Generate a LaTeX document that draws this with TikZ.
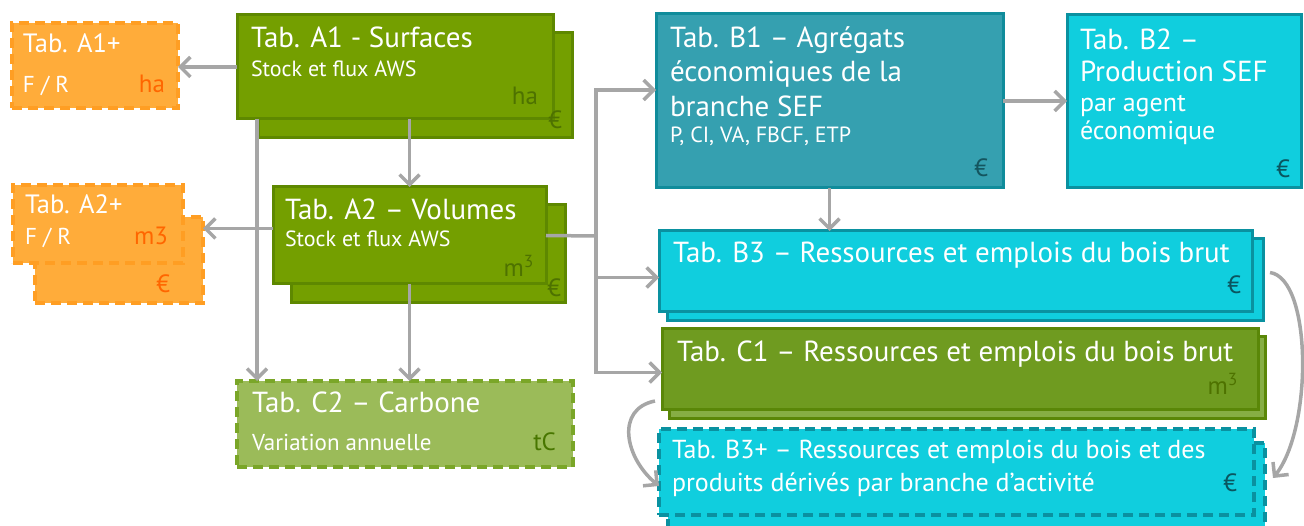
\documentclass[tikz,border=0pt]{standalone}
\usepackage{fontspec}
\setmainfont{PT Sans}
\usetikzlibrary{arrows.meta}
\definecolor{gfill}{RGB}{116,159,0}
\definecolor{gdraw}{RGB}{94,136,0}
\definecolor{gtext}{RGB}{78,114,0}
\definecolor{lgfill}{RGB}{155,187,89}
\definecolor{lgdraw}{RGB}{122,166,40}
\definecolor{lgtext}{RGB}{72,118,0}
\definecolor{ofill}{RGB}{255,172,58}
\definecolor{odraw}{RGB}{255,158,35}
\definecolor{otext}{RGB}{255,102,0}
\definecolor{tfill}{RGB}{53,160,176}
\definecolor{tdraw}{RGB}{16,140,155}
\definecolor{ttext}{RGB}{20,85,95}
\definecolor{cfill}{RGB}{16,206,222}
\definecolor{cdraw}{RGB}{10,145,160}
\definecolor{ctext}{RGB}{10,85,95}
\definecolor{cofill}{RGB}{111,155,32}
\definecolor{codraw}{RGB}{90,135,8}
\definecolor{cobfill}{RGB}{134,174,68}
\definecolor{conn}{RGB}{166,166,166}
\tikzset{
  box/.style={draw, line width=3pt, anchor=north west, inner sep=0pt, outer sep=0pt},
  dsh/.style={dash pattern=on 10pt off 6pt, line width=3.5pt},
  greenbox/.style={box, fill=gfill, draw=gdraw},
  lgbox/.style={box, dsh, fill=lgfill, draw=lgdraw},
  orangebox/.style={box, dsh, fill=ofill, draw=odraw},
  tealbox/.style={box, fill=tfill, draw=tdraw},
  cyanbox/.style={box, fill=cfill, draw=cdraw},
  cyandbox/.style={box, dsh, fill=cfill, draw=cdraw},
  c1box/.style={box, fill=cofill, draw=codraw},
  c1bbox/.style={box, fill=cobfill, draw=codraw},
  txt/.style={anchor=base west, inner sep=0pt, outer sep=0pt, text=white},
  ttl/.style={txt, font=\fontsize{29}{32}\selectfont},
  ttlp/.style={txt, font=\fontsize{26.5}{30}\selectfont},
  ttls/.style={txt, font=\fontsize{26}{28}\selectfont},
  sub/.style={txt, font=\fontsize{22}{24}\selectfont},
  subm/.style={txt, font=\fontsize{23}{26}\selectfont},
  unit/.style={anchor=base east, inner sep=0pt, outer sep=0pt, font=\fontsize{25}{27}\selectfont},
  link/.style={draw=conn, line width=3.5pt, -{Straight Barb[length=10pt,width=20pt]}},
  plain/.style={draw=conn, line width=3.5pt},
}
\begin{document}
\begin{tikzpicture}[x=1pt,y=-1pt]
\useasboundingbox (0,0) rectangle (1304,526);
% ---------- boxes ----------
\node[orangebox, minimum width=166pt, minimum height=85pt] (A1p) at (12,23) {};
\node[orangebox, minimum width=168pt, minimum height=86pt] (A2pb) at (35,217) {};
\node[orangebox, minimum width=170pt, minimum height=78pt] (A2p) at (13,185) {};
\node[greenbox, minimum width=314pt, minimum height=105pt] (A1b) at (258,33) {};
\node[greenbox, minimum width=316pt, minimum height=104pt] (A1) at (237,15) {};
\node[greenbox, minimum width=274pt, minimum height=98pt] (A2b) at (291,205) {};
\node[greenbox, minimum width=273pt, minimum height=97pt] (A2) at (273,187) {};
\node[lgbox, minimum width=336pt, minimum height=86pt] (C2) at (237,381) {};
\node[tealbox, minimum width=347pt, minimum height=174pt] (B1) at (656,14) {};
\node[cyanbox, minimum width=234pt, minimum height=173pt] (B2) at (1067,15) {};
\node[cyanbox, minimum width=596pt, minimum height=82pt] (B3b) at (667,239) {};
\node[cyanbox, minimum width=593pt, minimum height=81pt] (B3) at (659,231) {};
\node[c1bbox, minimum width=596pt, minimum height=82pt] (C1b) at (669,337) {};
\node[c1box, minimum width=596pt, minimum height=81pt] (C1) at (662,329) {};
\node[cyandbox, minimum width=597pt, minimum height=90pt] (B3pb) at (668,443) {};
\node[cyandbox, minimum width=595pt, minimum height=86pt] (B3p) at (659,429) {};
% ---------- texts ----------
\node[ttlp] (tA1p) at (23,53) {Tab. A1+};
\node[subm] (sA1p) at (23,93) {F / R};
\node[unit, text=otext] (uA1p) at (165,93) {ha};
\node[ttlp] (tA2p) at (25,214) {Tab. A2+};
\node[subm] (sA2p) at (25,245) {F / R};
\node[unit, text=otext] (uA2p) at (168,245) {m3};
\node[unit, text=otext] (eA2p) at (170,293) {€};
\node[ttl] (tA1) at (251,48) {Tab. A1 - Surfaces};
\node[sub] (sA1) at (251,77) {Stock et flux AWS};
\node[unit, text=gtext] (uA1) at (538,105) {ha};
\node[unit, text=gtext] (eA1) at (562,129) {€};
\node[ttl] (tA2) at (285,220) {Tab. A2 – Volumes};
\node[sub] (sA2) at (285,247) {Stock et flux AWS};
\node[unit, text=gtext] (uA2) at (534,277) {m\textsuperscript{3}};
\node[unit, text=gtext] (eA2) at (561,297) {€};
\node[ttl] (tC2) at (252,413) {Tab. C2 – Carbone};
\node[subm] (sC2) at (252,450) {Variation annuelle};
\node[unit, text=lgtext] (uC2) at (556,450) {tC};
\node[ttl] (tB1a) at (670,48) {Tab. B1 – Agrégats};
\node[ttl] (tB1b) at (670,82) {économiques de la};
\node[ttl] (tB1c) at (670,117) {branche SEF};
\node[sub] (sB1) at (670,143) {P, CI, VA, FBCF, ETP};
\node[unit, text=ttext] (eB1) at (988,177) {€};
\node[ttl] (tB2a) at (1080,50) {Tab. B2 –};
\node[ttl] (tB2b) at (1080,82) {Production SEF};
\node[ttls] (sB2a) at (1080,112) {par agent};
\node[ttls] (sB2b) at (1080,140) {économique};
\node[unit, text=ctext] (eB2) at (1290,178) {€};
\node[ttl] (tB3) at (673,263) {Tab. B3 – Ressources et emplois du bois brut};
\node[unit, text=ctext] (eB3) at (1241,294) {€};
\node[ttl] (tC1) at (677,362) {Tab. C1 – Ressources et emplois du bois brut};
\node[unit, text=gtext] (uC1) at (1238,395) {m\textsuperscript{3}};
\node[ttls] (tB3pa) at (672,458) {Tab. B3+ – Ressources et emplois du bois et des};
\node[ttls] (tB3pb) at (672,491) {produits dérivés par branche d’activité};
\node[unit, text=ctext] (eB3p) at (1237,491) {€};
% ---------- connectors ----------
\coordinate (J) at (596,236);
\draw[link] (A1.west) -- (A1.west -| A1p.east);
\draw[link] ([xshift=20pt]A1.south west) -- ([xshift=20pt]A1.south west |- C2.north);
\draw[link] (A2.north |- A1.south) -- (A2.north);
\draw[link] ([yshift=7pt]A2.west) -- ([yshift=7pt]A2.west -| A2pb.east);
\draw[link] (A2.south) -- (A2.south |- C2.north);
\draw[plain] (A2.east) -- (J);
\draw[link] (J) |- ([yshift=11pt]B1.west);
\draw[link] (J) |- ([yshift=-6pt]B3.west);
\draw[link] (J) |- ([yshift=-3pt]C1.west);
\draw[link] (B1.east) -- (B1.east -| B2.west);
\draw[link] (B1.south) -- (B1.south |- B3.north);
\draw[link] ([xshift=18pt,yshift=-1pt]B3.east) .. controls +(42,6) and +(40,-50) .. ([xshift=19pt,yshift=-6pt]B3p.east);
\draw[link] ([xshift=-7pt,yshift=9pt]C1.south west) .. controls +(-40,8) and +(-34,-28) .. ([yshift=-14pt]B3p.west);
\end{tikzpicture}
\end{document}
